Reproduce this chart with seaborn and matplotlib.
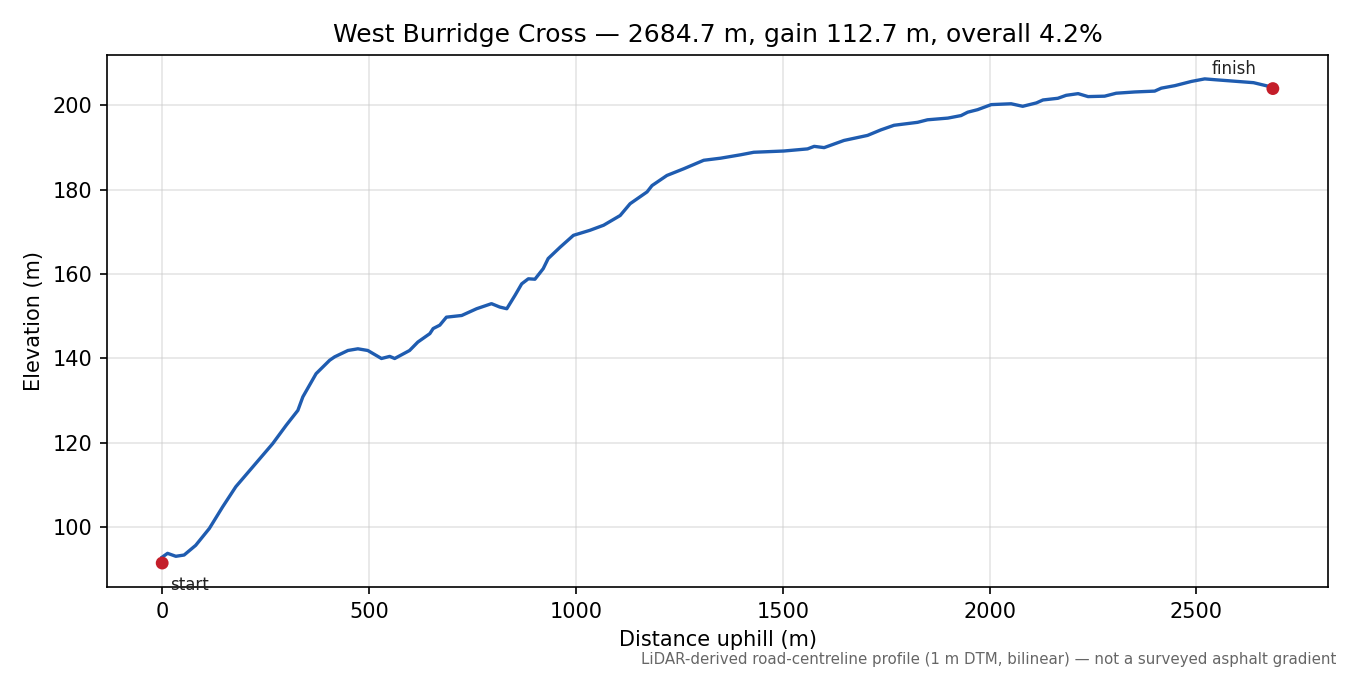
import numpy as np
import pandas as pd
import matplotlib
matplotlib.use('Agg')
import matplotlib.pyplot as plt
import seaborn as sns

# profile (distance uphill in m, elevation in m)
dist = [0, 13, 33, 53, 81, 114, 146, 178, 219, 267, 300, 328, 340, 372, 405,
        417, 449, 473, 497, 530, 550, 562, 598, 618, 647, 655, 671, 687, 724,
        760, 796, 816, 833, 853, 869, 885, 901, 921, 933, 962, 994, 1034,
        1067, 1107, 1131, 1172, 1184, 1220, 1261, 1309, 1350, 1398, 1430,
        1503, 1560, 1576, 1600, 1648, 1705, 1737, 1769, 1826, 1850, 1899,
        1931, 1947, 1971, 2004, 2052, 2080, 2113, 2129, 2165, 2185, 2214,
        2238, 2278, 2306, 2351, 2399, 2415, 2448, 2488, 2520, 2545, 2585,
        2638, 2684.7]
elev = [92.9, 93.8, 93.1, 93.4, 95.7, 99.7, 104.8, 109.6, 114.3, 119.8, 124.2,
        127.7, 130.9, 136.4, 139.6, 140.4, 141.9, 142.3, 141.9, 140.0, 140.5,
        140.0, 141.9, 143.9, 145.9, 147.1, 147.9, 149.8, 150.2, 151.8, 153.0,
        152.2, 151.8, 155.0, 157.7, 158.9, 158.8, 161.3, 163.7, 166.4, 169.2,
        170.4, 171.6, 173.9, 176.7, 179.5, 181.0, 183.4, 185.0, 187.0, 187.5,
        188.3, 188.9, 189.2, 189.7, 190.3, 190.0, 191.7, 192.9, 194.2, 195.3,
        196.0, 196.6, 197.0, 197.6, 198.4, 199.0, 200.2, 200.4, 199.8, 200.6,
        201.3, 201.7, 202.4, 202.8, 202.1, 202.2, 202.9, 203.2, 203.4, 204.1,
        204.7, 205.7, 206.3, 206.1, 205.8, 205.4, 204.3]

end_labels = ['start', 'finish']
end_dist = [0, 2684.7]
end_elev = [91.5, 204.0]

title = 'West Burridge Cross \u2014 2684.7 m, gain 112.7 m, overall 4.2%'
note = ('LiDAR-derived road-centreline profile (1 m DTM, bilinear) '
        '\u2014 not a surveyed asphalt gradient')

profile = pd.DataFrame({'dist': dist, 'elev': elev})
ends = pd.DataFrame({'label': end_labels, 'dist': end_dist, 'elev': end_elev})

fig = plt.figure(figsize=(9, 4.5), dpi=150)
ax = fig.add_axes([0.079, 0.130, 0.905, 0.789])

sns.lineplot(data=profile, x='dist', y='elev', sort=False, estimator=None,
             color='#1f5cb0', linewidth=1.6, ax=ax, zorder=2)
sns.scatterplot(data=ends, x='dist', y='elev', color='#c41e2a', s=38,
                edgecolor='none', ax=ax, zorder=3)

ax.annotate(end_labels[0], (end_dist[0], end_elev[0]), xytext=(4, -6),
            textcoords='offset points', ha='left', va='top', fontsize=8,
            color='#222222')
ax.annotate(end_labels[1], (end_dist[1], end_elev[1]), xytext=(-8, 5),
            textcoords='offset points', ha='right', va='bottom', fontsize=8,
            color='#222222')

ax.grid(True, color='#cccccc', alpha=0.5, linewidth=0.8)
ax.set_axisbelow(True)
ax.set_title(title, fontsize=12)
ax.set_xlabel('Distance uphill (m)', fontsize=10)
ax.set_ylabel('Elevation (m)', fontsize=10)

fig.text(0.99, 0.012, note, ha='right', va='bottom', fontsize=7.2, color='#666666')

fig.savefig('out.png', dpi=150)
